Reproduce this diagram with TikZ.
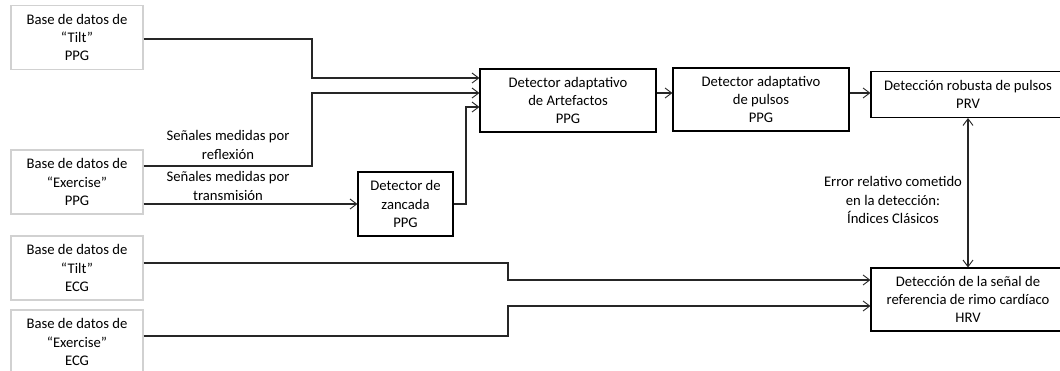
\documentclass[tikz,border=0pt]{standalone}
\usepackage{fontspec}
\setmainfont{Carlito}
\usetikzlibrary{arrows.meta}

\tikzset{
  srcbox/.style={draw=black!18, line width=1.1pt, fill=white, inner sep=0pt,
    minimum width=99pt, minimum height=48pt, align=center},
  procbox/.style={draw=black, line width=0.8pt, fill=white, inner sep=0pt, align=center},
  link/.style={draw=black!85, line width=0.8pt},
  arr/.style={link, -{Straight Barb[length=5pt,width=7.5pt,line width=0.7pt]}},
  dblarr/.style={link, {Straight Barb[length=5pt,width=7.5pt,line width=0.7pt]}-{Straight Barb[length=5pt,width=7.5pt,line width=0.7pt]}},
  lbl/.style={align=center, inner sep=0pt}
}

\begin{document}
\begin{tikzpicture}[x=0.75pt, y=-0.75pt, font=\fontsize{11}{13.8}\selectfont]
\useasboundingbox (0,0) rectangle (1060,371);
\clip (0,0) rectangle (1060,371);

% data sources
\node[srcbox] (tiltppg) at (77,37.5) {Base de datos de\\“Tilt"\\PPG};
\node[srcbox] (exppg)   at (77,182)  {Base de datos de\\“Exercise"\\PPG};
\node[srcbox] (tiltecg) at (77,268)  {Base de datos de\\“Tilt"\\ECG};
\node[srcbox] (execg)   at (77,342)  {Base de datos de\\“Exercise"\\ECG};

% processing blocks
\node[procbox, minimum width=71.25pt, minimum height=48pt] (zanc) at (405.5,204)
  {Detector de\\zancada\\PPG};
\node[procbox, minimum width=132pt, minimum height=47.25pt] (artef) at (568,100.5)
  {Detector adaptativo\\de Artefactos\\PPG};
\node[procbox, minimum width=132pt, minimum height=47.25pt] (pulsos) at (761,99.5)
  {Detector adaptativo\\de pulsos\\PPG};
\node[procbox, minimum width=145.5pt, minimum height=34.5pt] (robusta) at (968,94.5)
  {Detección robusta de pulsos\\PRV};
\node[procbox, minimum width=145.5pt, minimum height=47.25pt] (hrv) at (968,299.5)
  {Detección de la señal de\\referencia de rimo cardíaco\\HRV};

% PPG signal paths
\draw[arr] (tiltppg.east |- 0,39) -| (312,78) -- (artef.west |- 0,78);
\draw[arr] (exppg.east |- 0,166) -| (312,93) -- (artef.west |- 0,93);
\draw[arr] (exppg.east |- zanc.west) -- (zanc.west);
\draw[arr] (zanc.east) -| (466,107) -- (artef.west |- 0,107);
\draw[arr] (artef.east |- 0,93) -- (pulsos.west |- 0,93);
\draw[arr] (pulsos.east |- 0,93) -- (robusta.west |- 0,93);

% comparison between PRV and HRV
\draw[dblarr] (robusta.south) -- (hrv.north);

% ECG reference paths
\draw[arr] (tiltecg.east |- 0,263) -| (508,280) -- (hrv.west |- 0,280);
\draw[arr] (execg.east |- 0,336) -| (508,306) -- (hrv.west |- 0,306);

% labels
\node[lbl] (lrefl)  at (228,145) {Señales medidas por\\reflexión};
\node[lbl] (ltrans) at (228,186) {Señales medidas por\\transmisión};
\node[lbl] (lerr)   at (893,200) {Error relativo cometido\\en la detección:\\Índices Clásicos};
\end{tikzpicture}
\end{document}
